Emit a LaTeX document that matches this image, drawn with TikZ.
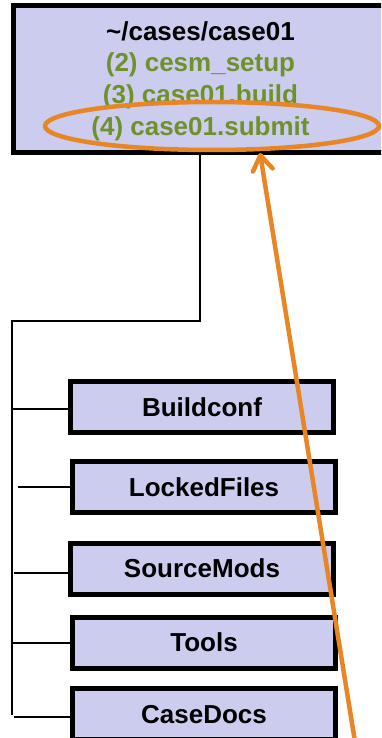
\documentclass[tikz,border=0pt]{standalone}
\usepackage{fontspec}
\setmainfont{Liberation Sans}
\usetikzlibrary{shapes.geometric,arrows.meta}
\definecolor{boxfill}{RGB}{204,204,238}
\definecolor{cmdgreen}{RGB}{110,146,42}
\definecolor{hilite}{RGB}{232,134,38}
\begin{document}
\begin{tikzpicture}[x=1pt,y=-1pt,
  boxfont/.style={font=\fontsize{26}{31.7}\selectfont\bfseries},
  dirbox/.style={boxfont, draw=black, line width=5pt, fill=boxfill,
    minimum width=263pt, minimum height=51pt, inner sep=0pt,
    text height=18.6pt, text depth=0pt},
  tree/.style={line width=1.5pt, draw=black},
  ring/.style={ellipse, draw=hilite, line width=4.5pt, inner sep=0pt},
  pointer/.style={draw=hilite, line width=4.5pt, line cap=round,
    -{Straight Barb[length=15pt,width=20pt,round]}},
]
\useasboundingbox (0,0) rectangle (381,738);
\clip (0,0) rectangle (381,738);

% case directory box with the commands run in it
\node[draw=black, line width=5pt, fill=boxfill, minimum width=374pt,
  minimum height=147pt, inner sep=0pt] (case) at (200.5,79) {};
\node[boxfont, align=center, inner sep=0pt] (casetxt) at (200.5,81)
  {\textasciitilde/cases/case01\\
   \textcolor{cmdgreen}{(2) cesm\_setup}\\
   \textcolor{cmdgreen}{(3) case01.build}\\
   \textcolor{cmdgreen}{(4) case01.submit}};

% sub-directories
\node[dirbox] (bconf)  at (202,407)   {Buildconf};
\node[dirbox] (locked) at (204,487)   {LockedFiles};
\node[dirbox] (smods)  at (202,568.5) {SourceMods};
\node[dirbox] (tools)  at (204,642.5) {Tools};
\node[dirbox] (cdocs)  at (204,714)   {CaseDocs};

% directory tree
\coordinate (j1) at (200,321);
\coordinate (j0) at (12,321);
\coordinate (jend) at (12,715);
\draw[tree] (case.south -| j1) -- (j1) -- (j0) -- (jend);

\coordinate (t1) at (12,409);
\coordinate (t2) at (18,487);
\coordinate (t3) at (14,573);
\coordinate (t4) at (12,643);
\coordinate (t5) at (14,717);
\draw[tree] (t1) -- (t1 -| bconf.west);
\draw[tree] (t2) -- (t2 -| locked.west);
\draw[tree] (t3) -- (t3 -| smods.west);
\draw[tree] (t4) -- (t4 -| tools.west);
\draw[tree] (t5) -- (t5 -| cdocs.west);

% highlight of the submit step
\node[ring, minimum width=334pt, minimum height=48pt] (hl) at (212,126) {};
\coordinate (tail) at (356,748);
\coordinate (tip) at (260,153);
\draw[pointer] (tail) -- (tip);
\end{tikzpicture}
\end{document}
